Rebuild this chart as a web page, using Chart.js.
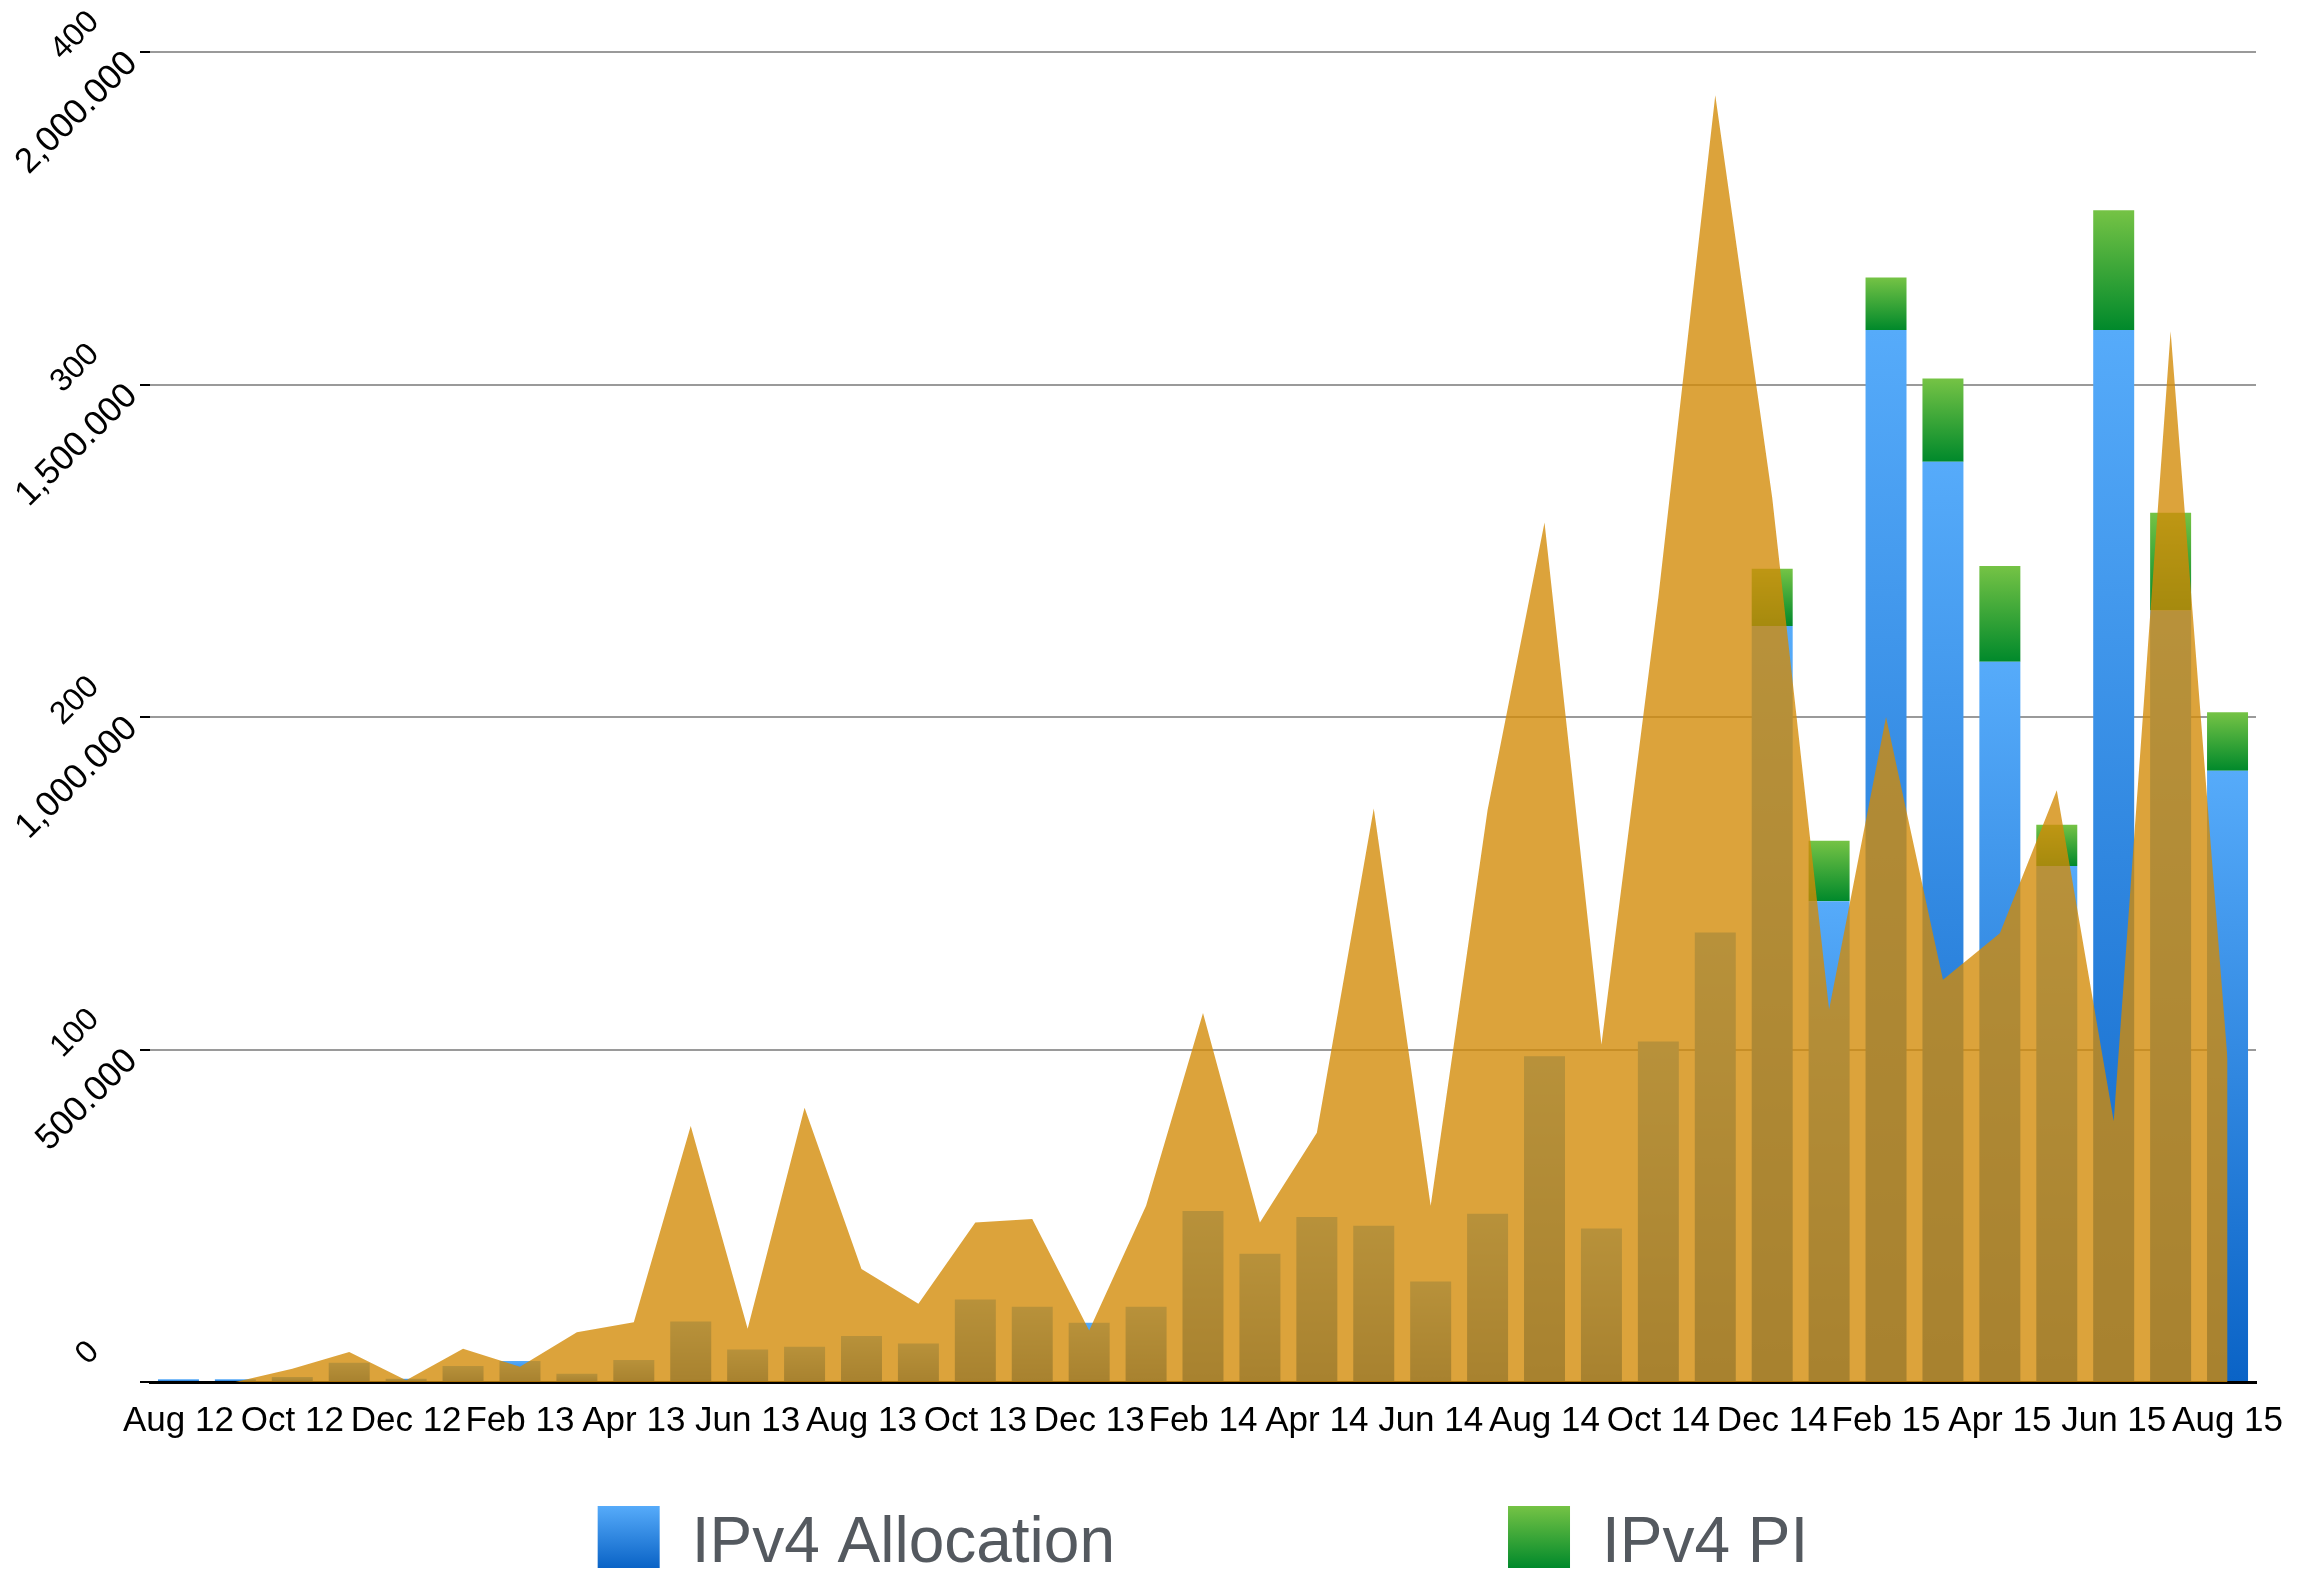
<!DOCTYPE html>
<html>
<head>
<meta charset="utf-8">
<title>IPv4</title>
<script src="https://cdn.jsdelivr.net/npm/chart.js@4.4.1/dist/chart.umd.min.js"></script>
<style>
  body { margin: 0; background: #fff; }
  canvas { display: block; }
</style>
</head>
<body>
<canvas id="grafico" width="2311" height="1572"></canvas>
<script>
// meses (eje x)
const meses = [
  "Aug 12", "Sep 12", "Oct 12", "Nov 12", "Dec 12",
  "Jan 13", "Feb 13", "Mar 13", "Apr 13", "May 13", "Jun 13", "Jul 13", "Aug 13", "Sep 13", "Oct 13", "Nov 13", "Dec 13",
  "Jan 14", "Feb 14", "Mar 14", "Apr 14", "May 14", "Jun 14", "Jul 14", "Aug 14", "Sep 14", "Oct 14", "Nov 14", "Dec 14",
  "Jan 15", "Feb 15", "Mar 15", "Apr 15", "May 15", "Jun 15", "Jul 15", "Aug 15"
];

// direcciones asignadas
const allocation = [
  4000, 4000, 7500, 29000, 5000,
  24000, 31500, 12500, 33000, 91000, 49000, 53000, 69000, 58000, 124000, 113000, 89000,
  113000, 257000, 193000, 248000, 235000, 151000, 253000, 490000, 231000, 512000, 676000, 1137000,
  723000, 1582000, 1384000, 1083000, 776000, 1582000, 1160000, 919000
];
const pi = [
  0, 0, 0, 0, 0,
  0, 0, 0, 0, 0, 0, 0, 0, 0, 0, 0, 0,
  0, 0, 0, 0, 0, 0, 0, 0, 0, 0, 0, 86000,
  91000, 79000, 125000, 144000, 62000, 180000, 147000, 88000
];

// numero de solicitudes (area, escala 0-400)
const solicitudes = [
  0, 0, 4, 9, 0.5,
  10, 4.6, 15, 18, 77, 16, 82.5, 34, 23.5, 48, 49, 15.5,
  53, 111, 48, 75, 172.5, 53, 172, 258.5, 101.5, 236, 387, 266,
  112, 200, 121, 135, 178, 78.5, 316, 97
];

// etiquetas de los ejes y
const ticksSolicitudes = ["0", "100", "200", "300", "400"];
const ticksDirecciones = ["", "500.000", "1,000.000", "1,500.000", "2,000.000"];

const fuente = '"Liberation Sans", Arial, Helvetica, sans-serif';
const colores = {
  alloc: ["#56abfa", "#0a63c6"],
  pi: ["#75c345", "#00892b"],
  area: "rgba(211, 138, 6, 0.79)"
};

// escala lineal sin recorte de etiquetas (las dos escalas se solapan a la izquierda)
class LinealLibre extends Chart.LinearScale {
  static id = "linealLibre";
  _computeLabelArea() {
    return undefined;
  }
}
Chart.register(LinealLibre);

// degradado vertical para cada segmento de la barra
function degradado(context, [arriba, abajo], base) {
  const chart = context.chart;
  if (!chart.chartArea || context.dataIndex === undefined) return arriba;
  const y = chart.scales.y;
  const i = context.dataIndex;
  const desde = base ? base[i] : 0;
  const hasta = desde + context.dataset.data[i];
  const g = chart.ctx.createLinearGradient(0, y.getPixelForValue(hasta), 0, y.getPixelForValue(desde));
  g.addColorStop(0, arriba);
  g.addColorStop(1, abajo);
  return g;
}

// leyenda con cuadros degradados
const leyenda = {
  id: "leyenda",
  afterDraw(chart) {
    const { ctx, chartArea } = chart;
    const items = chart.data.datasets.filter((d) => d.type === "bar");
    const caja = 62, hueco = 32, separacion = 393;
    ctx.save();
    ctx.font = "64px " + fuente;
    const anchos = items.map((d) => caja + hueco + ctx.measureText(d.label).width);
    const total = anchos.reduce((a, b) => a + b, 0) + separacion * (items.length - 1);
    let x = (chartArea.left + chartArea.right) / 2 - total / 2;
    const top = chart.height - 66;
    items.forEach((d, i) => {
      const g = ctx.createLinearGradient(0, top, 0, top + caja);
      g.addColorStop(0, d.leyenda[0]);
      g.addColorStop(1, d.leyenda[1]);
      ctx.fillStyle = g;
      ctx.fillRect(x, top, caja, caja);
      ctx.fillStyle = "#54595f";
      ctx.textBaseline = "alphabetic";
      ctx.fillText(d.label, x + caja + hueco, top + 56);
      x += anchos[i] + separacion;
    });
    ctx.restore();
  }
};

const ctx = document.getElementById("grafico").getContext("2d");

new Chart(ctx, {
  data: {
    labels: meses,
    datasets: [
      {
        type: "line",
        label: "Solicitudes",
        data: solicitudes,
        yAxisID: "y1",
        fill: "origin",
        backgroundColor: colores.area,
        borderWidth: 0,
        pointRadius: 0,
        tension: 0,
        order: 0
      },
      {
        type: "bar",
        label: "IPv4 Allocation",
        data: allocation,
        yAxisID: "y",
        leyenda: colores.alloc,
        backgroundColor: (c) => degradado(c, colores.alloc, null),
        categoryPercentage: 0.8,
        barPercentage: 0.9,
        order: 1
      },
      {
        type: "bar",
        label: "IPv4 PI",
        data: pi,
        yAxisID: "y",
        leyenda: colores.pi,
        backgroundColor: (c) => degradado(c, colores.pi, allocation),
        categoryPercentage: 0.8,
        barPercentage: 0.9,
        order: 1
      }
    ]
  },
  options: {
    responsive: false,
    animation: false,
    devicePixelRatio: 1,
    layout: { padding: { top: 52, right: 55, bottom: 112, left: 0 } },
    plugins: {
      legend: { display: false },
      tooltip: { enabled: false }
    },
    scales: {
      x: {
        stacked: true,
        grid: { display: false, drawTicks: false },
        border: { color: "#000", width: 3 },
        ticks: {
          autoSkip: false,
          maxRotation: 0,
          padding: 18,
          color: "#000",
          font: { family: fuente, size: 35 },
          callback: (v, i) => (i % 2 === 0 ? meses[i] : "")
        },
        afterFit(s) {
          s.paddingLeft = 0;
          s.paddingRight = 0;
        }
      },
      // direcciones
      y: {
        type: "linealLibre",
        stacked: true,
        position: "left",
        weight: 0,
        min: 0,
        max: 2000000,
        grid: { color: "#9a9a9a", lineWidth: 2, tickColor: "#000", tickLength: 10 },
        border: { display: false },
        ticks: {
          stepSize: 500000,
          minRotation: 45,
          maxRotation: 45,
          padding: 8,
          labelOffset: 6,
          color: "#000",
          font: { family: fuente, size: 35 },
          callback: (v, i) => ticksDirecciones[i]
        },
        afterFit(s) {
          s.width = 40;
          s.paddingTop = 0;
          s.paddingBottom = 0;
        }
      },
      // solicitudes
      y1: {
        type: "linealLibre",
        position: "left",
        weight: 1,
        min: 0,
        max: 400,
        grid: { display: false, drawTicks: false },
        border: { display: false },
        ticks: {
          stepSize: 100,
          minRotation: 45,
          maxRotation: 45,
          padding: 16,
          labelOffset: -35,
          color: "#000",
          font: { family: fuente, size: 32 },
          callback: (v, i) => ticksSolicitudes[i]
        },
        afterFit(s) {
          s.width = 110;
          s.paddingTop = 0;
          s.paddingBottom = 0;
        }
      }
    }
  },
  plugins: [leyenda]
});
</script>
</body>
</html>
